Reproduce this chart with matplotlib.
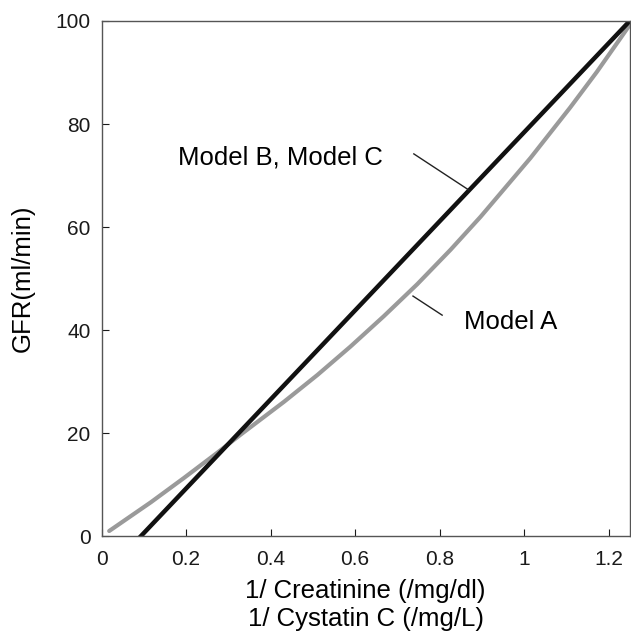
import matplotlib
matplotlib.use('Agg')
import matplotlib.pyplot as plt

plt.rcParams['font.family'] = ['Liberation Sans', 'DejaVu Sans']

# Model A (gray curve)
model_a_x = [0.018, 0.117, 0.195, 0.274, 0.329, 0.432, 0.511, 0.589, 0.668,
             0.747, 0.826, 0.897, 1.015, 1.109, 1.172, 1.231, 1.248]
model_a_y = [1.0, 6.6, 11.3, 16.2, 19.7, 26.1, 31.3, 36.8, 42.7,
             48.9, 55.6, 62.0, 73.4, 83.2, 90.1, 97.0, 99.0]

# Model B / Model C (black straight line)
model_bc_x = [0.093, 1.25]
model_bc_y = [0.0, 100.0]

x_ticks = [0, 0.2, 0.4, 0.6, 0.8, 1.0, 1.2]
x_tick_labels = ['0', '0.2', '0.4', '0.6', '0.8', '1', '1.2']
y_ticks = [0, 20, 40, 60, 80, 100]

fig = plt.figure(figsize=(6.31, 6.36), dpi=100)
ax = fig.add_axes([0.161, 0.157, 0.837, 0.81])

ax.plot(model_a_x, model_a_y, color='#9a9a9a', lw=3,
        solid_capstyle='round', solid_joinstyle='round')
ax.plot(model_bc_x, model_bc_y, color='#111111', lw=3.2)

# pointer lines and labels
ax.plot([0.739, 0.869], [74.2, 67.2], color='#222222', lw=1)
ax.plot([0.737, 0.806], [46.6, 42.9], color='#222222', lw=1)
ax.text(0.181, 73.5, 'Model B, Model C', fontsize=18.5, va='center', ha='left')
ax.text(0.857, 41.6, 'Model A', fontsize=18.5, va='center', ha='left')

ax.set_xlim(0, 1.25)
ax.set_ylim(0, 100)
ax.set_xticks(x_ticks)
ax.set_xticklabels(x_tick_labels)
ax.set_yticks(y_ticks)
ax.tick_params(direction='in', length=5, width=0.8, labelsize=15,
               colors='#1a1a1a', pad=8)
ax.tick_params(axis='x', pad=10)
for s in ax.spines.values():
    s.set_color('#555555')
    s.set_linewidth(1.0)

ax.set_xlabel('1/ Creatinine (/mg/dl)\n1/ Cystatin C (/mg/L)', fontsize=18.5,
              linespacing=1.2, labelpad=7)
ax.set_ylabel('GFR(ml/min)', fontsize=18.5, labelpad=14.5)

fig.savefig('out.png', dpi=100)
